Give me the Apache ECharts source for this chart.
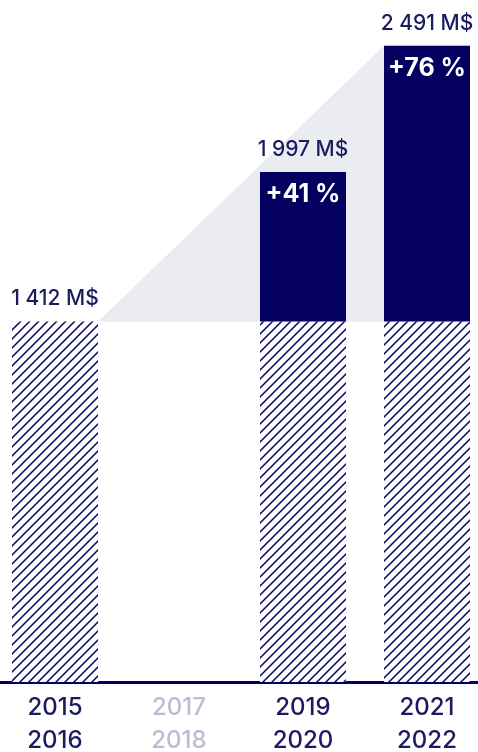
<!DOCTYPE html>
<html>
<head>
<meta charset="utf-8">
<script src="https://cdn.jsdelivr.net/npm/echarts@6/dist/echarts.min.js"></script>
<style>
  html, body { margin: 0; padding: 0; background: #ffffff; }
  #chart { width: 478px; height: 752px; }
</style>
</head>
<body>
<div id="chart"></div>
<script>
// Period labels and revenue totals (M$)
const periods = ['2015\n2016', '2017\n2018', '2019\n2020', '2021\n2022'];
const totals = [1412, null, 1997, 2491];
const baseline = 1412;

const NAVY = '#04005f';
const TEXT = '#1c1a60';
const MUTED = '#bdbcd3';
const SHADE = '#ebebf2';
const BAR_W = 86;

// Diagonal hatch used for the baseline portion of each bar
function hatchPattern() {
  const s = 9;
  const c = document.createElement('canvas');
  c.width = s; c.height = s;
  const g = c.getContext('2d');
  g.fillStyle = '#ffffff';
  g.fillRect(0, 0, s, s);
  g.strokeStyle = NAVY;
  g.lineWidth = 1.5;
  g.beginPath();
  g.moveTo(-1, s + 1); g.lineTo(s + 1, -1);
  g.moveTo(-1, 1); g.lineTo(1, -1);
  g.moveTo(s - 1, s + 1); g.lineTo(s + 1, s - 1);
  g.stroke();
  return c;
}

const fmt = v => String(v).replace(/\B(?=(\d{3})+(?!\d))/g, ' ') + ' M$';

const baseData = totals.map((v, i) => {
  if (v == null) return null;
  const item = { value: baseline };
  if (i === 0) {
    item.label = { show: true, position: 'top', distance: 12, formatter: () => fmt(v) };
  }
  return item;
});

const growthData = totals.map((v, i) => {
  if (v == null || i === 0) return null;
  return {
    value: v - baseline,
    total: v,
    pct: Math.round((v / baseline - 1) * 100)
  };
});

// Shaded wedge from the first bar's top edge up to the last bar's top edge
const wedge = [[0, baseline, 3, totals[3]]];

const chart = echarts.init(document.getElementById('chart'), null, { renderer: 'canvas' });
chart.setOption({
  animation: false,
  grid: { left: -7, right: -11, top: 18, bottom: 70, outerBoundsMode: 'none', containLabel: false },
  xAxis: {
    type: 'category',
    data: periods.map((p, i) => i === 1
      ? { value: p, textStyle: { color: MUTED } }
      : { value: p }),
    axisTick: { show: false },
    axisLine: { show: true, lineStyle: { color: NAVY, width: 3 } },
    axisLabel: {
      color: TEXT,
      fontFamily: 'Inter',
      fontWeight: 500,
      fontSize: 24,
      lineHeight: 33,
      margin: 9,
      interval: 0
    }
  },
  yAxis: {
    type: 'value',
    min: 0,
    max: 2600,
    show: false,
    splitLine: { show: false }
  },
  series: [
    {
      type: 'custom',
      z: 1,
      data: wedge,
      renderItem: (params, api) => {
        const a = api.coord([api.value(0), api.value(1)]);
        const b = api.coord([api.value(2), api.value(3)]);
        const c = api.coord([api.value(2), api.value(1)]);
        const h = BAR_W / 2;
        return {
          type: 'polygon',
          shape: { points: [[a[0] + h, a[1]], [b[0] - h, b[1]], [c[0] - h, c[1]]] },
          style: { fill: SHADE }
        };
      },
      silent: true
    },
    {
      type: 'bar',
      stack: 'rev',
      z: 2,
      barWidth: BAR_W,
      data: baseData,
      itemStyle: { color: { image: hatchPattern(), repeat: 'repeat' } },
      label: {
        show: false,
        color: TEXT,
        fontFamily: 'Inter',
        fontWeight: 500,
        fontSize: 21
      }
    },
    {
      type: 'bar',
      stack: 'rev',
      z: 2,
      barWidth: BAR_W,
      data: growthData,
      itemStyle: { color: NAVY },
      label: {
        show: true,
        position: 'insideTop',
        distance: 10,
        color: '#ffffff',
        fontFamily: 'Inter',
        fontWeight: 'bold',
        fontSize: 25,
        formatter: p => '+' + p.data.pct + ' %'
      }
    },
    {
      // Total labels above the stacked bars
      type: 'bar',
      stack: 'rev',
      z: 2,
      barWidth: BAR_W,
      data: growthData.map(d => d ? { value: 0, total: d.total } : null),
      itemStyle: { color: 'transparent' },
      label: {
        show: true,
        position: 'top',
        distance: 12,
        color: TEXT,
        fontFamily: 'Inter',
        fontWeight: 500,
        fontSize: 21,
        formatter: p => fmt(p.data.total)
      }
    }
  ]
});
</script>
</body>
</html>
